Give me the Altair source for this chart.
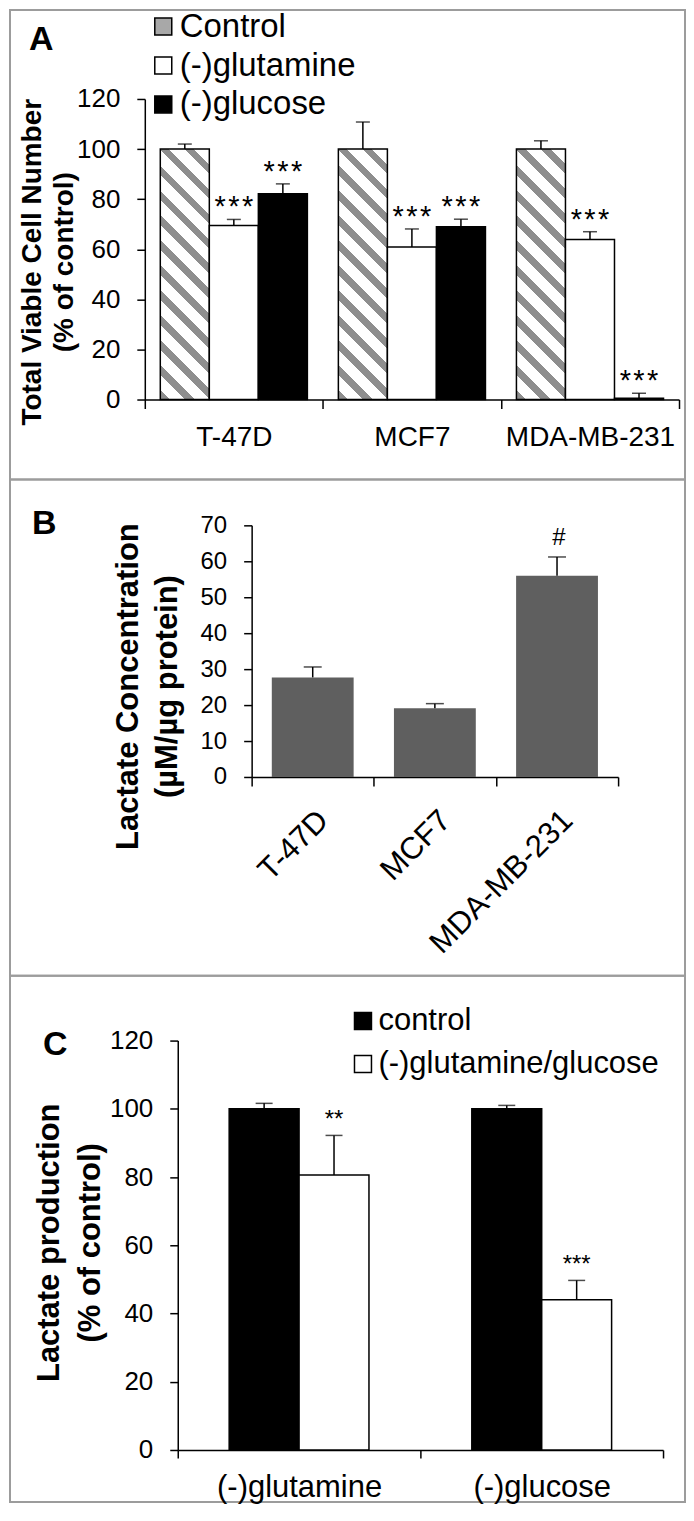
import altair as alt
import pandas as pd

FONT = "Liberation Sans"

# ---------------- data ----------------
# Panel A: total viable cell number (% of control)
a_lines = ["T-47D", "MCF7", "MDA-MB-231"]
a_treat = ["Control", "(-)glutamine", "(-)glucose"]
a_control = [100.0, 100.0, 100.0]
a_control_err = [2.0, 10.8, 3.3]
a_glutamine = [69.5, 60.9, 63.9]
a_glutamine_err = [2.4, 7.2, 3.1]
a_glucose = [82.2, 69.0, 0.5]
a_glucose_err = [3.9, 3.0, 2.0]
a_sig = ["", "*\u200a*\u200a*", "*\u200a*\u200a*"]   # per treatment

# Panel B: lactate concentration (uM/ug protein)
b_lines = ["T-47D", "MCF7", "MDA-MB-231"]
b_lactate = [27.7, 19.1, 56.0]
b_err = [2.9, 1.3, 5.2]
b_sig = ["", "", "#"]

# Panel C: lactate production (% of control)
c_conditions = ["(-)glutamine", "(-)glucose"]
c_series = ["control", "(-)glutamine/glucose"]
c_control = [100.0, 100.0]
c_control_err = [1.6, 1.0]
c_treated = [80.6, 44.0]
c_treated_err = [11.6, 5.7]
c_sig = ["**", "***"]

panel_letters = ["A", "B", "C"]

# ---------------- tables ----------------
rows = []
for i, ln in enumerate(a_lines):
    for t, vals, errs in zip(a_treat, [a_control, a_glutamine, a_glucose],
                             [a_control_err, a_glutamine_err, a_glucose_err]):
        rows.append({"line": ln, "treat": t, "value": vals[i], "err": errs[i],
                     "top": vals[i] + errs[i], "sig": a_sig[a_treat.index(t)]})
dfA = pd.DataFrame(rows)

dfB = pd.DataFrame({"line": b_lines, "value": b_lactate, "err": b_err,
                    "top": [v + e for v, e in zip(b_lactate, b_err)], "sig": b_sig})

rows = []
for i, cnd in enumerate(c_conditions):
    rows.append({"cond": cnd, "series": c_series[0], "value": c_control[i],
                 "top": c_control[i] + c_control_err[i], "sig": ""})
    rows.append({"cond": cnd, "series": c_series[1], "value": c_treated[i],
                 "top": c_treated[i] + c_treated_err[i], "sig": c_sig[i]})
dfC = pd.DataFrame(rows)

# ---------------- layout (px) ----------------
W = 676
A_H, B_H, C_H = 470, 497, 527

# hatch gradient for control bars (diagonal stripes)
n_per = 12
gray_frac = 0.38
stops = []
for k in range(n_per):
    a0 = k / n_per
    a1 = (k + gray_frac) / n_per
    a2 = (k + 1) / n_per
    stops += [{"offset": a0, "color": "#8e8e8e"}, {"offset": a1, "color": "#8e8e8e"},
              {"offset": a1, "color": "#ffffff"}, {"offset": a2, "color": "#ffffff"}]
hatch = {"gradient": "linear", "x1": 0, "y1": 1, "x2": 0.2255, "y2": -0.152, "stops": stops}

axis_common = dict(domainColor="black", tickColor="black", labelColor="black",
                   domainWidth=1.5, tickWidth=1.5, grid=False, labelFont=FONT,
                   titleFont=FONT, titleColor="black", labelOverlap=False, labelLimit=500)


def yaxis(values, font_label, title, tx, ty, tsize, tlh, offset):
    return alt.Axis(values=values, offset=offset, title=title, titleX=tx, titleY=ty,
                    titleAngle=270, titleAlign="center", titleBaseline="alphabetic",
                    titleFontSize=tsize, titleFontWeight="bold", titleLineHeight=tlh,
                    titleLimit=1000, labelFontSize=font_label, labelPadding=17,
                    tickSize=8, labelFlush=False, **axis_common)


def letter(idx, px, py):
    return alt.Chart(pd.DataFrame({"letter": [panel_letters[idx]]})).mark_text(
        font=FONT, fontSize=34, fontWeight="bold", align="left", baseline="top",
        color="black").encode(x=alt.value(px), y=alt.value(py), text="letter:N")


def legend(lx, ly, fs, rowpad):
    return alt.Legend(title=None, orient="none", legendX=lx, legendY=ly,
                      direction="vertical", symbolType="square", symbolSize=289,
                      symbolStrokeColor="black", symbolStrokeWidth=1.5, labelFontSize=fs,
                      labelFont=FONT, labelColor="black", labelOffset=0, rowPadding=rowpad,
                      padding=0, labelLimit=500)


def grouped_layers(df, key, series, x, y, y_top, fill_scale, leg, offsets, rel_width,
                   cap_size, sig_size, sig_dy, hatch_first):
    layers = []
    for k, (s, off) in enumerate(zip(series, offsets)):
        base = alt.Chart(df).transform_filter(alt.datum[key] == s)
        field_fill = alt.Fill(f"{key}:N", sort=series, scale=fill_scale, legend=leg)
        if hatch_first and k == 0:
            fill = alt.condition(alt.datum[key] == s, alt.value(hatch), field_fill)
        else:
            fill = field_fill
        layers.append(base.mark_bar(stroke="black", strokeWidth=1.5, xOffset=off,
                                    width=alt.RelativeBandSize(rel_width)).encode(
            x=x, y=y, fill=fill))
        layers.append(base.mark_rule(color="black", strokeWidth=1.5, xOffset=off).encode(
            x=x, y=y, y2="top:Q"))
        layers.append(base.mark_tick(color="black", thickness=1.5, size=cap_size,
                                     xOffset=off).encode(x=x, y=y_top))
        layers.append(base.mark_text(font=FONT, fontSize=sig_size, baseline="alphabetic",
                                     dy=sig_dy, color="black", xOffset=off).encode(
            x=x, y=y_top, text="sig:N"))
    return layers


# ---------------- Panel A ----------------
A_X0, A_X1, A_Y0, A_Y1 = 135, 670, 390, 89
A_BAR = 49.1
xA_scale = alt.Scale(domain=a_lines, range=[A_X0, A_X1], paddingInner=0, paddingOuter=0)
xA_axis = alt.Axis(title=None, labelAngle=0, tickBand="extent", offset=A_Y0 - A_H,
                   labelFontSize=28, labelPadding=15, tickSize=9, **axis_common)
yA_scale = alt.Scale(domain=[0, 120], range=[A_Y0, A_Y1], nice=False)
yA_axis = yaxis(list(range(0, 121, 20)), 26, ["Total Viable Cell Number", "(% of control)"],
                -104, 252, 28, 32, -A_X0)
xA = alt.X("line:N", sort=a_lines, scale=xA_scale, axis=xA_axis)
yA = alt.Y("value:Q", scale=yA_scale, axis=yA_axis)
yA_top = alt.Y("top:Q", scale=yA_scale, axis=yA_axis)
fillA = alt.Scale(domain=a_treat, range=["#a8a8a8", "white", "black"])
layersA = grouped_layers(dfA, "treat", a_treat, xA, yA, yA_top, fillA, legend(137, 0, 33, 5),
                         [-A_BAR, 0, A_BAR], A_BAR / ((A_X1 - A_X0) / 3), 14, 29, -3, True)
panelA = alt.layer(*layersA, letter(0, 19, 13)).properties(width=W, height=A_H)

# ---------------- Panel B ----------------
B_X0, B_X1, B_Y0, B_Y1 = 242, 609, 298, 46
xB_scale = alt.Scale(domain=b_lines, range=[B_X0, B_X1], paddingInner=0, paddingOuter=0)
xB_axis = alt.Axis(title=None, labelAngle=-45, labelAlign="right", labelBaseline="top",
                   tickBand="extent", offset=B_Y0 - B_H, labelFontSize=31, labelPadding=19,
                   tickSize=9, **axis_common)
yB_scale = alt.Scale(domain=[0, 70], range=[B_Y0, B_Y1], nice=False)
yB_axis = yaxis(list(range(0, 71, 10)), 24, ["Lactate Concentration", "(\u00b5M/\u00b5g protein)"],
                -114, 207, 31, 39, -B_X0)
xB = alt.X("line:N", sort=b_lines, scale=xB_scale, axis=xB_axis)
yB = alt.Y("value:Q", scale=yB_scale, axis=yB_axis)
yB_top = alt.Y("top:Q", scale=yB_scale, axis=yB_axis)
baseB = alt.Chart(dfB)
barsB = baseB.mark_bar(color="#5f5f5f", width=alt.RelativeBandSize(0.67)).encode(x=xB, y=yB)
errB = baseB.mark_rule(color="black", strokeWidth=1.5).encode(x=xB, y=yB, y2="top:Q")
capB = baseB.mark_tick(color="black", thickness=1.5, size=18).encode(x=xB, y=yB_top)
sigB = baseB.mark_text(font=FONT, fontSize=24, baseline="alphabetic", dy=-12, dx=2,
                       color="black").encode(x=xB, y=yB_top, text="sig:N")
panelB = alt.layer(barsB, errB, capB, sigB, letter(1, 22, 28)).properties(width=W, height=B_H)

# ---------------- Panel C ----------------
C_X0, C_X1, C_Y0, C_Y1 = 168, 654, 475, 65
C_BAR = 70
xC_scale = alt.Scale(domain=c_conditions, range=[C_X0, C_X1], paddingInner=0, paddingOuter=0)
xC_axis = alt.Axis(title=None, labelAngle=0, tickBand="extent", offset=C_Y0 - C_H,
                   labelFontSize=31, labelPadding=15, tickSize=8, **axis_common)
yC_scale = alt.Scale(domain=[0, 120], range=[C_Y0, C_Y1], nice=False)
yC_axis = yaxis(list(range(0, 121, 20)), 26, ["Lactate production", "(% of control)"],
                -119, 267, 31, 41, -C_X0)
xC = alt.X("cond:N", sort=c_conditions, scale=xC_scale, axis=xC_axis)
yC = alt.Y("value:Q", scale=yC_scale, axis=yC_axis)
yC_top = alt.Y("top:Q", scale=yC_scale, axis=yC_axis)
fillC = alt.Scale(domain=c_series, range=["black", "white"])
layersC = grouped_layers(dfC, "series", c_series, xC, yC, yC_top, fillC, legend(338, 30, 31, 11),
                         [-C_BAR / 2, C_BAR / 2], C_BAR / ((C_X1 - C_X0) / 2), 17, 24, -8, False)
panelC = alt.layer(*layersC, letter(2, 33, 52)).properties(width=W, height=C_H)

chart = alt.vconcat(panelA, panelB, panelC, spacing=0, bounds="flush", padding=0).resolve_scale(
    fill="independent"
).configure(font=FONT).configure_view(stroke="#9c9c9c", strokeWidth=2)

chart.save("out.html", embed_options={"renderer": "svg", "actions": False})
